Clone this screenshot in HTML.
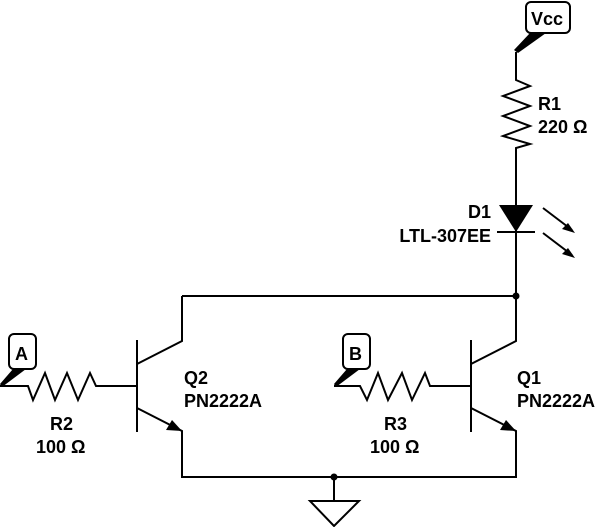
<!DOCTYPE html>
<html><head><style>body{margin:0;background:#fff}svg{display:block}text{font-family:"Liberation Sans",sans-serif;font-weight:bold;font-size:18px;fill:#000}</style></head><body>
<svg width="600" height="527" viewBox="0 0 600 527" xmlns="http://www.w3.org/2000/svg">
<g fill="none" stroke="#000" stroke-width="2">
<rect x="526" y="2" width="44" height="31" rx="5" fill="#fff"/>
<path d="M516 52 V80 L530 86 L503 96 L530 106 L503 116 L530 126 L503 136 L530 144 L516 148 V296"/>
<line x1="497" y1="232" x2="535" y2="232"/>
<path d="M543 208 L572 230 M543 233 L572 255"/>
<path d="M182 296 H516 V341 L471 364"/>
<path d="M182 296 V341 L137 364"/>
<line x1="137" y1="340" x2="137" y2="432"/>
<path d="M137 408 L182 431 V477 H516 V431 L471 408"/>
<line x1="471" y1="340" x2="471" y2="432"/>
<path d="M0 386 H28 L33 400 L45 373 L55 400 L67 373 L78 400 L90 373 L96 386 H137"/>
<path d="M334 386 H360 L367 400 L378 373 L388 400 L402 373 L412 400 L425 373 L430 386 H471"/>
<rect x="9" y="334" width="27" height="35" rx="5" fill="#fff"/>
<rect x="343" y="334" width="27" height="35" rx="5" fill="#fff"/>
<path d="M334 477 V501 M310 501 H359 L334 526 Z"/>
</g>
<g fill="#000">
<path d="M530 33 L546 33 L518 53 L514 50 Z"/>
<path d="M13 369 L26 369 L2 387 L0 384 Z"/>
<path d="M347 369 L360 369 L336 387 L334 384 Z"/>
<polygon points="499,205 533,205 516,232"/>
<polygon points="575,233 562,229 568,223"/>
<polygon points="575,258 562,254 568,248"/>
<polygon points="182,431 166,430 172,420"/>
<polygon points="516,431 500,430 506,420"/>
<circle cx="516" cy="296" r="3.5"/>
<circle cx="334" cy="477" r="3.5"/>
</g>
<text x="531" y="25">Vcc</text>
<text x="15" y="360">A</text>
<text x="349" y="360">B</text>
<text x="538" y="110">R1</text>
<text x="538" y="133">220 Ω</text>
<text x="491" y="218" text-anchor="end">D1</text>
<text x="491" y="242" text-anchor="end">LTL-307EE</text>
<text x="184" y="384">Q2</text>
<text x="184" y="407">PN2222A</text>
<text x="517" y="384">Q1</text>
<text x="517" y="407">PN2222A</text>
<text x="50" y="430">R2</text>
<text x="36" y="453">100 Ω</text>
<text x="384" y="430">R3</text>
<text x="370" y="453">100 Ω</text>
</svg>
</body></html>
